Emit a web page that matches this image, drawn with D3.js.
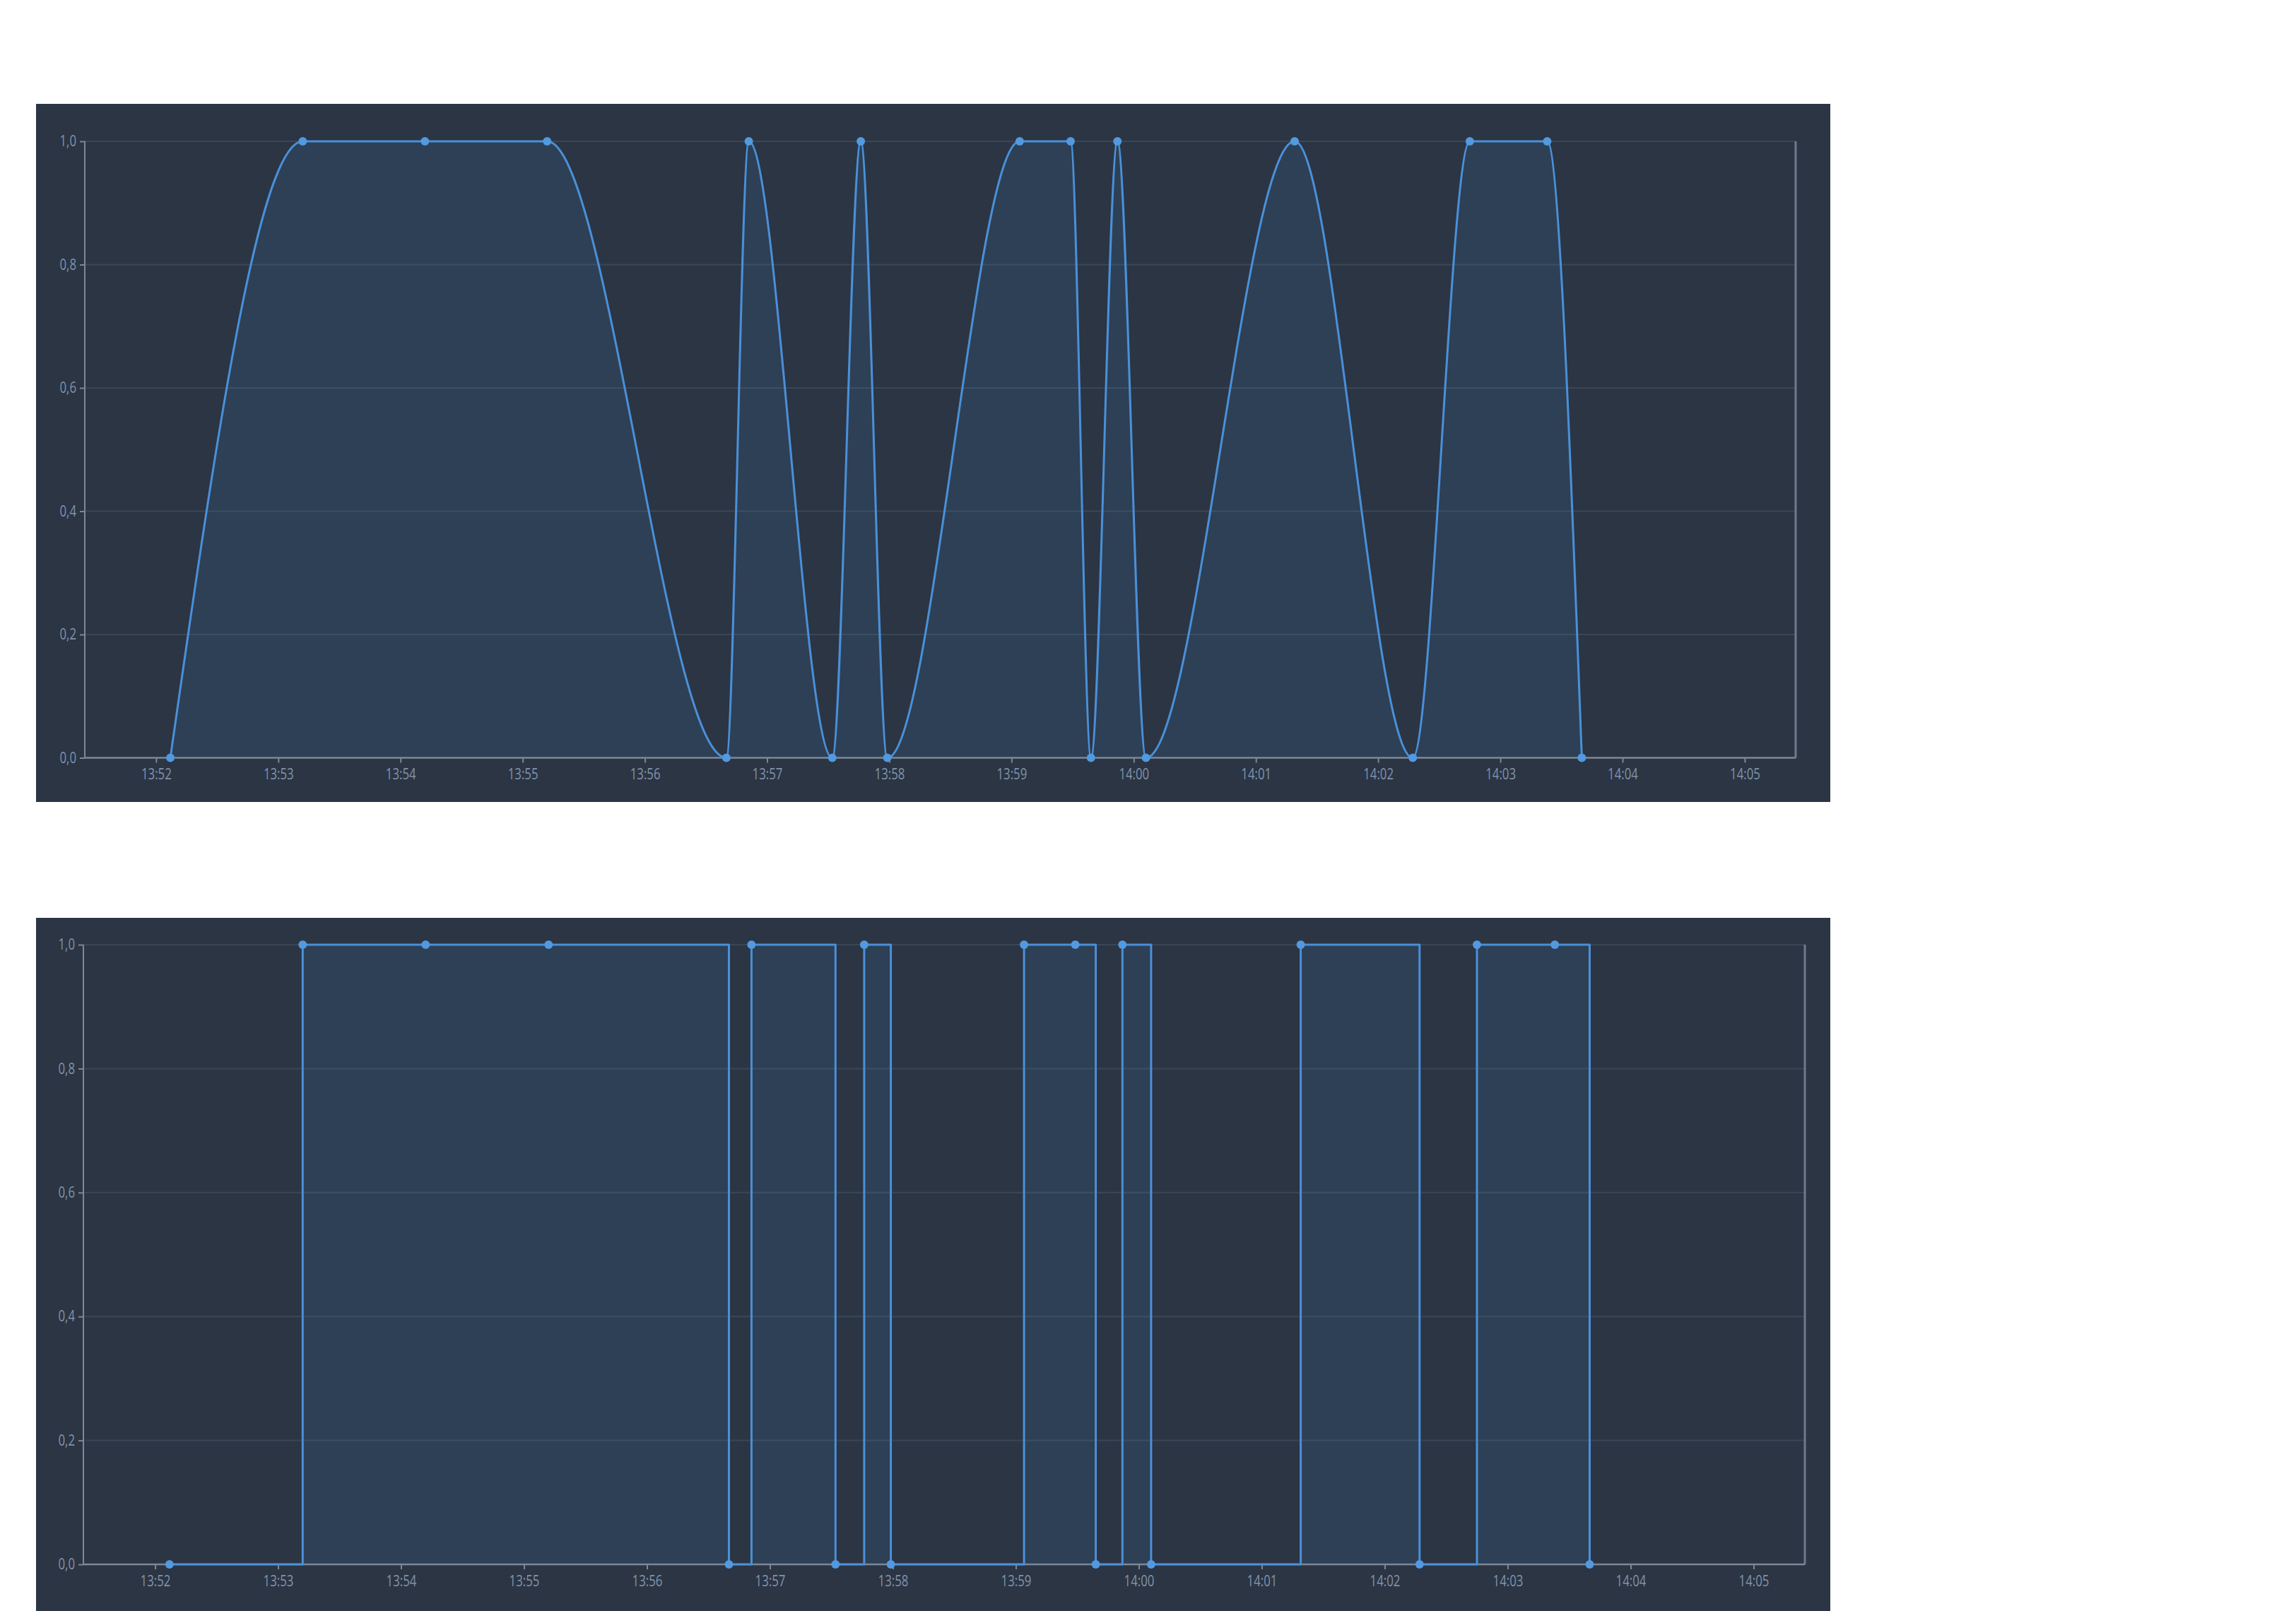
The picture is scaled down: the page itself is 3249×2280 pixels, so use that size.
<!DOCTYPE html>
<html>
<head>
<meta charset="utf-8">
<script src="https://cdn.jsdelivr.net/npm/d3@7"></script>
<style>
  html, body { margin: 0; padding: 0; background: #ffffff; }
  svg { display: block; }
  text { font-family: "Open Sans", "Noto Sans", sans-serif; }
</style>
</head>
<body>
<script>
// ---- data ----
const day = "2024-01-01T";
const domainTimes = ["13:51:25", "14:05:25"];
const times = ["13:52:07","13:53:12","13:54:12","13:55:12","13:56:40","13:56:51","13:57:32","13:57:46","13:57:59","13:59:04","13:59:29","13:59:39","13:59:52","14:00:06","14:01:19","14:02:17","14:02:45","14:03:23","14:03:40"];
const values = [0,1,1,1,0,1,0,1,0,1,1,0,1,0,1,0,1,1,0];
const xTickLabels = ["13:52","13:53","13:54","13:55","13:56","13:57","13:58","13:59","14:00","14:01","14:02","14:03","14:04","14:05"];
const yTicks = [0, 0.2, 0.4, 0.6, 0.8, 1.0];

const parseT = s => new Date(day + s);
const data = times.map((t, i) => ({ t: parseT(t), v: values[i] }));
const xTicks = xTickLabels.map(s => parseT(s + ":00"));
const fmtY = d3.formatLocale({ decimal: ",", thousands: ".", grouping: [3], currency: ["", "€"] }).format(".1f");

const W = 3249, H = 2280;
const svg = d3.select("body").append("svg").attr("width", W).attr("height", H);

const C = {
  bg: "#2b3544", fill: "rgba(74,144,217,0.12)", line: "#4a90d9", dot: "#5299e0",
  grid: "#3a4757", axis: "#7d8896", border: "#6f7b8b", label: "#8193aa"
};

function drawChart(cfg) {
  const g = svg.append("g");
  g.append("rect").attr("x", cfg.panel[0]).attr("y", cfg.panel[1])
    .attr("width", cfg.panel[2] - cfg.panel[0]).attr("height", cfg.panel[3] - cfg.panel[1])
    .attr("fill", C.bg);

  const x = d3.scaleTime().domain(domainTimes.map(parseT)).range([cfg.x0, cfg.x1]);
  const y = d3.scaleLinear().domain([0, 1]).range([cfg.yb, cfg.yt]);

  // grid lines
  g.append("g").selectAll("line").data(yTicks.filter(d => d > 0)).join("line")
    .attr("x1", cfg.x0).attr("x2", cfg.x1)
    .attr("y1", d => y(d)).attr("y2", d => y(d))
    .attr("stroke", C.grid).attr("stroke-width", 2);

  // y axis
  const ya = g.append("g").attr("transform", `translate(${cfg.x0},0)`)
    .call(d3.axisLeft(y).tickValues(yTicks).tickFormat(fmtY).tickSize(7).tickPadding(3));
  ya.select(".domain").attr("stroke", C.axis).attr("stroke-width", 2).attr("d", `M0,${y(1)}V${y(0)}`);
  ya.selectAll(".tick line").attr("stroke", C.axis).attr("stroke-width", 2);
  ya.selectAll(".tick text").attr("fill", C.label).attr("font-size", 21)
    .attr("font-family", "'Open Sans', sans-serif")
    .attr("transform", "translate(-12,0) scale(0.8,1)").attr("x", 0);

  // right border
  g.append("line").attr("x1", cfg.x1).attr("x2", cfg.x1).attr("y1", y(1)).attr("y2", y(0))
    .attr("stroke", C.border).attr("stroke-width", 3);

  // x axis
  const xa = g.append("g").attr("transform", `translate(0,${y(0)})`)
    .call(d3.axisBottom(x).tickValues(xTicks).tickFormat((d, i) => xTickLabels[i]).tickSize(7).tickPadding(9));
  xa.select(".domain").attr("stroke", C.axis).attr("stroke-width", 2.5).attr("d", `M${cfg.x0},0H${cfg.x1}`);
  xa.selectAll(".tick line").attr("stroke", C.axis).attr("stroke-width", 2);
  xa.selectAll(".tick text").attr("fill", C.label).attr("font-size", 21)
    .attr("font-family", "'Open Sans', sans-serif")
    .attr("transform", "scale(0.8,1)");

  // area + line
  const area = d3.area().x(d => x(d.t)).y0(y(0)).y1(d => y(d.v)).curve(cfg.curve);
  const line = d3.line().x(d => x(d.t)).y(d => y(d.v)).curve(cfg.curve);
  g.append("path").datum(data).attr("d", area).attr("fill", C.fill);
  g.append("path").datum(data).attr("d", line).attr("fill", "none")
    .attr("stroke", C.line).attr("stroke-width", 3).attr("stroke-linejoin", "round");

  // points
  g.append("g").selectAll("circle").data(data).join("circle")
    .attr("cx", d => x(d.t)).attr("cy", d => y(d.v)).attr("r", 6)
    .attr("fill", C.dot);
}

drawChart({ panel: [51, 147, 2590, 1135], x0: 120, x1: 2541, yt: 200, yb: 1072.5, curve: d3.curveMonotoneX });
drawChart({ panel: [51, 1299, 2590, 2280], x0: 118, x1: 2554, yt: 1337, yb: 2214, curve: d3.curveStepAfter });
</script>
</body>
</html>
